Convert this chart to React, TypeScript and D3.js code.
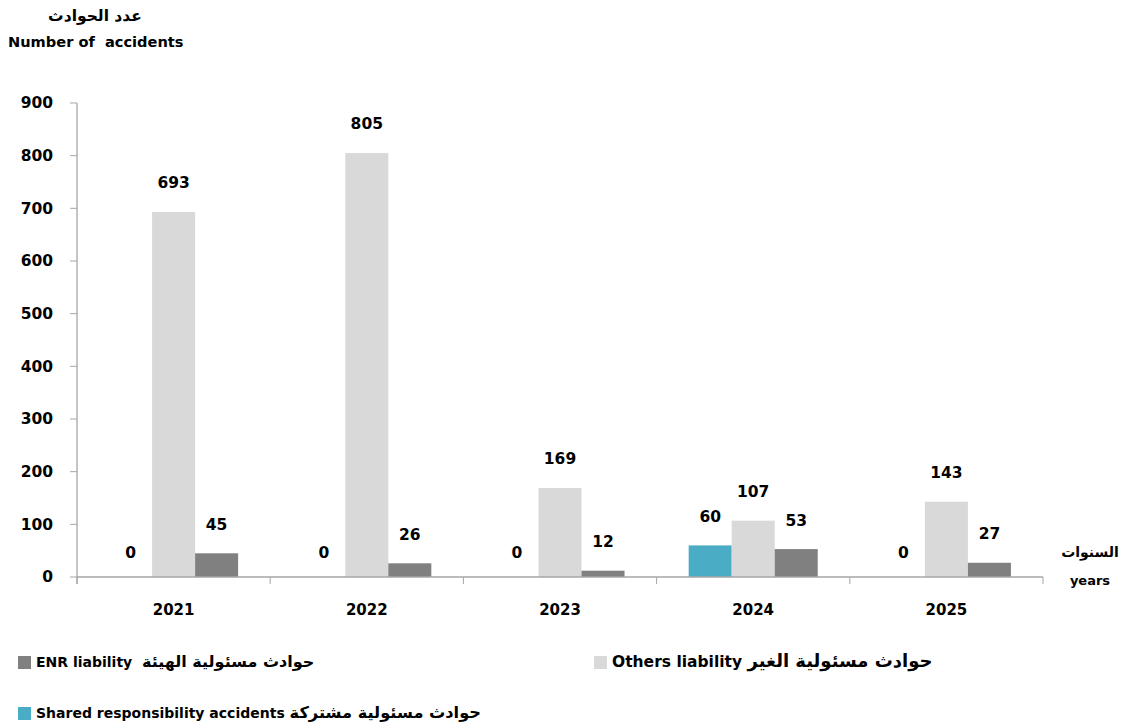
import React from "react";
import * as d3 from "d3";

const years = ["2021", "2022", "2023", "2024", "2025"];
const sharedValues = [0, 0, 0, 60, 0];
const othersValues = [693, 805, 169, 107, 143];
const enrValues = [45, 26, 12, 53, 27];
const yTicks = [0, 100, 200, 300, 400, 500, 600, 700, 800, 900];
const seriesKeys = ["shared", "others", "enr"];
const seriesColors: Record<string, string> = { shared: "#4BACC6", others: "#D9D9D9", enr: "#808080" };
const legendItems = [
  { key: "enr", en: "ENR liability  ", ar: "حوادث مسئولية الهيئة" },
  { key: "others", en: "Others liability ", ar: "حوادث مسئولية الغير" },
  { key: "shared", en: "Shared responsibility accidents ", ar: "حوادث مسئولية مشتركة" },
];

const FONT = "'DejaVu Sans', 'Open Sans', sans-serif";

export default function App() {
  const W = 1147, H = 726;
  const left = 77, right = 1043, top = 103, bottom = 577;
  const x = d3.scaleBand<string>().domain(years).range([left, right]).padding(0);
  const bw = x.bandwidth();
  const inner = d3.scaleBand<string>().domain(seriesKeys).range([bw * 0.166, bw * 0.834]).padding(0);
  const y = d3.scaleLinear().domain([0, 900]).range([bottom, top]);
  const values: Record<string, number[]> = { shared: sharedValues, others: othersValues, enr: enrValues };
  const axisColor = "#A6A6A6";
  const legendPos = [
    { x: 18, y: 662, en: 14, ar: 16 },
    { x: 594, y: 662, en: 15.5, ar: 18 },
    { x: 18, y: 713, en: 14, ar: 16.2 },
  ];

  return (
    <svg width={W} height={H} style={{ position: "absolute", left: 0, top: 0, fontFamily: FONT }}>
      <rect width={W} height={H} fill="#fff" />
      <text x={95} y={16} dy="0.35em" textAnchor="middle" fontSize={15.5} fontWeight="bold" fill="#000">عدد الحوادث</text>
      <text x={8} y={42} dy="0.35em" fontSize={14.6} fontWeight="bold" fill="#000" xmlSpace="preserve">Number of  accidents</text>

      {yTicks.map((t) => (
        <g key={t}>
          <line x1={70} x2={left} y1={y(t)} y2={y(t)} stroke={axisColor} strokeWidth={1} />
          <text x={53} y={y(t)} dy="0.35em" textAnchor="end" fontSize={15.5} fontWeight="bold" fill="#000">{t}</text>
        </g>
      ))}
      <line x1={left} x2={left} y1={top} y2={bottom + 7} stroke={axisColor} strokeWidth={1.3} />

      {years.map((yr, i) =>
        seriesKeys.map((k) => {
          const v = values[k][i];
          const bx = (x(yr) as number) + (inner(k) as number);
          return (
            <g key={yr + k}>
              <rect x={bx} y={y(v)} width={inner.bandwidth()} height={bottom - y(v)} fill={seriesColors[k]} />
              <text x={bx + inner.bandwidth() / 2} y={y(v) - (v === 0 ? 24 : 29)} dy="0.35em" textAnchor="middle" fontSize={15.5} fontWeight="bold" fill="#000">{v}</text>
            </g>
          );
        })
      )}

      <line x1={left} x2={right} y1={bottom} y2={bottom} stroke={axisColor} strokeWidth={1.3} />
      {[...years.map((yr) => x(yr) as number), right].map((px, i) => (
        <line key={i} x1={px} x2={px} y1={bottom} y2={bottom + 7} stroke={axisColor} strokeWidth={1} />
      ))}
      {years.map((yr) => (
        <text key={yr} x={(x(yr) as number) + bw / 2} y={610} dy="0.35em" textAnchor="middle" fontSize={15} fontWeight="bold" fill="#000">{yr}</text>
      ))}

      <text x={1090} y={552} dy="0.35em" textAnchor="middle" fontSize={14} fontWeight="bold" fill="#000">السنوات</text>
      <text x={1090} y={580} dy="0.35em" textAnchor="middle" fontSize={13} fontWeight="bold" fill="#000">years</text>

      {legendItems.map((it, i) => (
        <g key={it.key}>
          <rect x={legendPos[i].x} y={legendPos[i].y - 6} width={13} height={13} fill={seriesColors[it.key]} />
          <text x={legendPos[i].x + 18} y={legendPos[i].y} dy="0.35em" fontSize={legendPos[i].en} fontWeight="bold" fill="#000" direction="ltr" xmlSpace="preserve">
            <tspan>{it.en}</tspan>
            <tspan fontSize={legendPos[i].ar}>{"\u202B" + it.ar + "\u202C"}</tspan>
          </text>
        </g>
      ))}
    </svg>
  );
}
